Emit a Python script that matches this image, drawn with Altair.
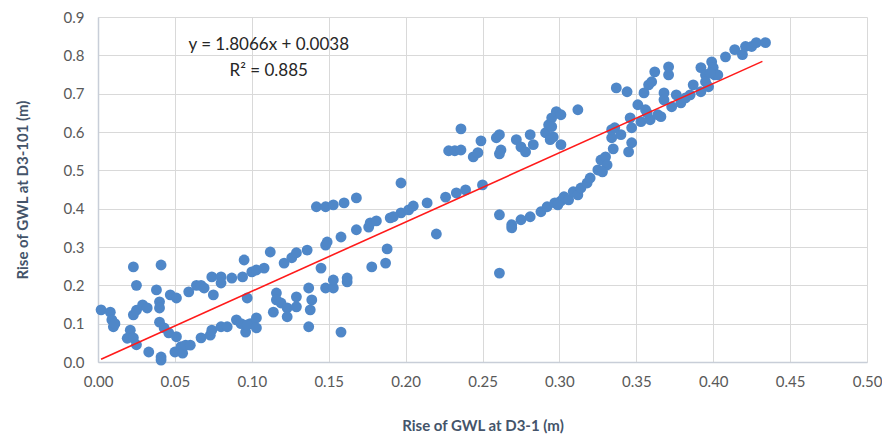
import altair as alt
import pandas as pd

# Rise of GWL at D3-1 (m)
x_vals = [
    0.002, 0.008, 0.009, 0.010, 0.011, 0.023, 0.025, 0.023, 0.025, 0.029,
    0.032, 0.021, 0.019, 0.023, 0.025, 0.033, 0.041, 0.038, 0.040, 0.040,
    0.040, 0.043, 0.041, 0.041, 0.047, 0.051, 0.046, 0.051, 0.050, 0.054,
    0.055, 0.057, 0.060, 0.059, 0.064, 0.067, 0.069, 0.074, 0.075, 0.080,
    0.080, 0.067, 0.073, 0.074, 0.080, 0.084, 0.087, 0.094, 0.095, 0.090,
    0.093, 0.097, 0.096, 0.100, 0.099, 0.097, 0.103, 0.108, 0.112, 0.116,
    0.116, 0.114, 0.103, 0.103, 0.119, 0.123, 0.123, 0.129, 0.129, 0.121,
    0.126, 0.129, 0.136, 0.137, 0.139, 0.138, 0.137, 0.145, 0.148, 0.153,
    0.153, 0.162, 0.162, 0.158, 0.142, 0.148, 0.153, 0.160, 0.168, 0.148,
    0.149, 0.158, 0.168, 0.176, 0.177, 0.181, 0.178, 0.187, 0.188, 0.190,
    0.197, 0.197, 0.192, 0.202, 0.205, 0.214, 0.220, 0.226, 0.228, 0.232,
    0.236, 0.236, 0.233, 0.239, 0.244, 0.247, 0.249, 0.250, 0.259, 0.261,
    0.262, 0.261, 0.261, 0.261, 0.269, 0.269, 0.275, 0.281, 0.288, 0.292,
    0.297, 0.272, 0.275, 0.278, 0.281, 0.283, 0.291, 0.293, 0.295, 0.294,
    0.298, 0.301, 0.295, 0.296, 0.301, 0.312, 0.301, 0.303, 0.306, 0.309,
    0.312, 0.314, 0.318, 0.320, 0.325, 0.327, 0.330, 0.331, 0.328, 0.335,
    0.334, 0.334, 0.336, 0.340, 0.337, 0.344, 0.345, 0.347, 0.346, 0.347,
    0.351, 0.353, 0.355, 0.356, 0.358, 0.360, 0.359, 0.362, 0.364, 0.368,
    0.368, 0.371, 0.371, 0.373, 0.376, 0.379, 0.387, 0.385, 0.382, 0.392,
    0.392, 0.395, 0.395, 0.397, 0.399, 0.400, 0.401, 0.403, 0.398, 0.408,
    0.414, 0.419, 0.421, 0.425, 0.428, 0.434, 0.299, 0.357, 0.366,
]
# Rise of GWL at D3-101 (m)
y_vals = [
    0.136, 0.130, 0.110, 0.092, 0.100, 0.248, 0.200, 0.123, 0.135, 0.149,
    0.141, 0.083, 0.062, 0.063, 0.045, 0.026, 0.253, 0.188, 0.157, 0.141,
    0.104, 0.089, 0.013, 0.005, 0.175, 0.167, 0.076, 0.066, 0.026, 0.040,
    0.023, 0.044, 0.044, 0.183, 0.200, 0.200, 0.193, 0.222, 0.175, 0.222,
    0.206, 0.063, 0.070, 0.083, 0.092, 0.092, 0.219, 0.222, 0.266, 0.110,
    0.100, 0.167, 0.078, 0.235, 0.100, 0.097, 0.240, 0.245, 0.287, 0.180,
    0.162, 0.130, 0.115, 0.089, 0.154, 0.141, 0.118, 0.170, 0.144, 0.258,
    0.272, 0.285, 0.292, 0.193, 0.162, 0.136, 0.092, 0.245, 0.193, 0.193,
    0.214, 0.219, 0.209, 0.078, 0.405, 0.405, 0.410, 0.415, 0.428, 0.305,
    0.313, 0.326, 0.345, 0.352, 0.363, 0.368, 0.248, 0.258, 0.295, 0.376,
    0.389, 0.467, 0.379, 0.397, 0.407, 0.415, 0.334, 0.430, 0.551, 0.551,
    0.553, 0.608, 0.441, 0.449, 0.535, 0.546, 0.577, 0.462, 0.585, 0.593,
    0.553, 0.543, 0.384, 0.232, 0.358, 0.350, 0.371, 0.379, 0.392, 0.405,
    0.415, 0.580, 0.561, 0.548, 0.593, 0.567, 0.598, 0.619, 0.637, 0.580,
    0.653, 0.645, 0.614, 0.587, 0.567, 0.658, 0.420, 0.431, 0.423, 0.444,
    0.436, 0.454, 0.467, 0.480, 0.501, 0.527, 0.535, 0.514, 0.496, 0.556,
    0.585, 0.606, 0.611, 0.593, 0.715, 0.705, 0.548, 0.572, 0.637, 0.611,
    0.671, 0.627, 0.702, 0.658, 0.723, 0.731, 0.632, 0.757, 0.645, 0.702,
    0.684, 0.749, 0.770, 0.666, 0.697, 0.676, 0.723, 0.697, 0.689, 0.705,
    0.768, 0.749, 0.731, 0.718, 0.783, 0.768, 0.749, 0.749, 0.754, 0.796,
    0.815, 0.802, 0.823, 0.823, 0.833, 0.833, 0.410, 0.650, 0.640,
]

slope = 1.8066
intercept = 0.0038
equation_lines = ["y = 1.8066x + 0.0038", "R² = 0.885"]
x_ticks = [0.0, 0.05, 0.10, 0.15, 0.20, 0.25, 0.30, 0.35, 0.40, 0.45, 0.50]
y_ticks = [0.0, 0.1, 0.2, 0.3, 0.4, 0.5, 0.6, 0.7, 0.8, 0.9]

df = pd.DataFrame({"x": x_vals, "y": y_vals})
xr = [min(x_vals), 0.432]
line_df = pd.DataFrame({"x": xr, "y": [slope * v + intercept for v in xr]})
text_df = pd.DataFrame({"x": [0.111, 0.111], "y": [0.828, 0.760], "t": equation_lines})

FONT = "Lato"
xs = alt.Scale(domain=[0, 0.5], nice=False, zero=False)
ys = alt.Scale(domain=[0, 0.9], nice=False)

xaxis = alt.Axis(
    values=x_ticks, format=".2f",
    title="Rise of GWL at D3-1 (m)", titlePadding=29,
)
yaxis = alt.Axis(
    values=y_ticks, format=".1f",
    title="Rise of GWL at D3-101 (m)", titlePadding=33,
)

points = alt.Chart(df).mark_circle(size=118, color="#4F87C8", opacity=1).encode(
    x=alt.X("x:Q", scale=xs, axis=xaxis),
    y=alt.Y("y:Q", scale=ys, axis=yaxis),
)
line = alt.Chart(line_df).mark_line(color="#FF1A1A", strokeWidth=1.6).encode(
    x=alt.X("x:Q", scale=xs, axis=xaxis), y=alt.Y("y:Q", scale=ys, axis=yaxis)
)
text = alt.Chart(text_df).mark_text(font=FONT, fontSize=17, color="#262626").encode(
    x=alt.X("x:Q", scale=xs, axis=xaxis), y=alt.Y("y:Q", scale=ys, axis=yaxis), text="t:N"
)

chart = (
    alt.layer(points, line, text)
    .properties(
        width=769, height=345,
        autosize=alt.AutoSizeParams(type="none"),
        padding={"left": 90, "top": 9, "right": 15, "bottom": 72},
    )
    .configure_view(stroke=None)
    .configure_axis(
        labelFont=FONT, titleFont=FONT, labelFontSize=15, titleFontSize=15,
        labelColor="#595959", titleColor="#44546A", titleFontWeight="bold",
        gridColor="#D9D9D9", gridWidth=1, domainColor="#C8CED8", domainWidth=1.5,
        labelOverlap=False, labelFlush=False, ticks=False, grid=True,
    )
    .configure_axisX(labelPadding=12)
    .configure_axisY(labelPadding=14)
)

chart.save("out.html", embed_options={"renderer": "svg", "actions": False})
